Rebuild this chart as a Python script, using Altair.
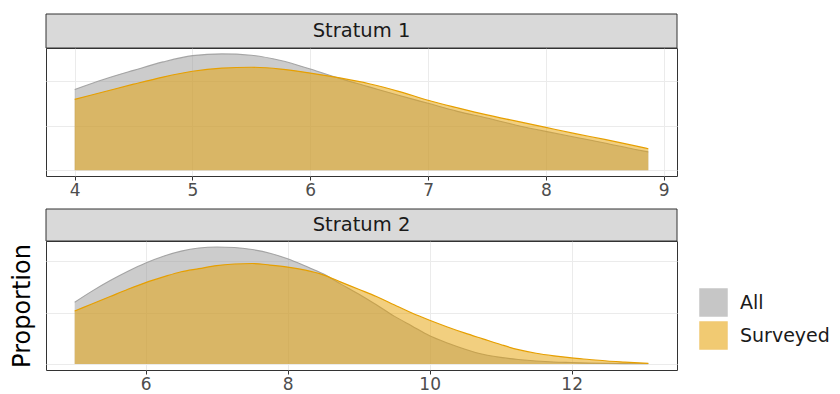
import altair as alt
import pandas as pd

# ---- data ----
groups = ["All", "Surveyed"]
strata = ["Stratum 1", "Stratum 2"]

x_s1 = [4.0, 4.25, 4.5, 4.75, 5.0, 5.25, 5.5, 5.75, 6.0, 6.25, 6.5, 6.75,
        7.0, 7.25, 7.5, 7.75, 8.0, 8.25, 8.5, 8.75, 8.87]
all_s1 = [0.181, 0.204, 0.224, 0.243, 0.257, 0.261, 0.258, 0.246, 0.227, 0.206, 0.187,
          0.168, 0.150, 0.132, 0.117, 0.101, 0.087, 0.074, 0.061, 0.047, 0.041]
surv_s1 = [0.159, 0.176, 0.193, 0.209, 0.222, 0.229, 0.231, 0.227, 0.218, 0.207, 0.194,
           0.177, 0.157, 0.140, 0.124, 0.110, 0.096, 0.082, 0.069, 0.055, 0.048]

x_s2 = [5.0, 5.25, 5.5, 5.75, 6.0, 6.25, 6.5, 6.75, 7.0, 7.25, 7.5, 7.75, 8.0, 8.25,
        8.5, 8.75, 9.0, 9.25, 9.5, 9.75, 10.0, 10.25, 10.5, 10.75, 11.0, 11.25, 11.5,
        11.75, 12.0, 12.25, 12.5, 12.75, 13.08]
all_s2 = [0.120, 0.142, 0.162, 0.180, 0.196, 0.209, 0.219, 0.225, 0.227, 0.226, 0.222,
          0.215, 0.204, 0.190, 0.175, 0.155, 0.136, 0.115, 0.093, 0.074, 0.055, 0.041,
          0.029, 0.019, 0.013, 0.009, 0.006, 0.004, 0.003, 0.002, 0.0014, 0.001, 0.0006]
surv_s2 = [0.103, 0.117, 0.131, 0.145, 0.158, 0.169, 0.179, 0.185, 0.191, 0.194, 0.195,
           0.192, 0.188, 0.182, 0.173, 0.159, 0.145, 0.131, 0.115, 0.099, 0.085, 0.072,
           0.060, 0.049, 0.038, 0.028, 0.021, 0.016, 0.012, 0.009, 0.006, 0.004, 0.0016]

x_ticks_s1 = [4, 5, 6, 7, 8, 9]
x_ticks_s2 = [6, 8, 10, 12]
y_grid_s1 = [0.0, 0.1, 0.2]
y_grid_s2 = [0.0, 0.05, 0.1, 0.15, 0.2]

colors = ["#999999", "#E69F00"]
FONT = "DejaVu Sans"
W = 631


def frame(xs, a, s):
    rows = []
    for xv, yv in zip(xs, a):
        rows.append({"x": xv, "y": yv, "group": "All"})
    for xv, yv in zip(xs, s):
        rows.append({"x": xv, "y": yv, "group": "Surveyed"})
    return pd.DataFrame(rows)


def panel(df, label, xdom, ydom, xticks, ygrid, height, strip_h, ytitle):
    fill_scale = alt.Scale(domain=groups, range=colors)
    xenc = alt.X("x:Q", scale=alt.Scale(domain=xdom, nice=False, zero=False),
                 axis=alt.Axis(values=xticks, title=None, domain=False, grid=True,
                               gridColor="#EBEBEB", tickColor="#333333", tickSize=4,
                               labelColor="#4D4D4D", labelFontSize=17, labelFont=FONT,
                               labelPadding=2, format="d"))
    yax = dict(values=ygrid, labels=False, ticks=False, domain=False, grid=True,
               gridColor="#EBEBEB")
    if ytitle:
        yax.update(title=ytitle, titleFontSize=24, titleFont=FONT, titleFontWeight="normal",
                   titleColor="#000000", titlePadding=12)
    else:
        yax.update(title=None)
    yenc = alt.Y("y:Q", scale=alt.Scale(domain=ydom, nice=False, zero=False),
                 axis=alt.Axis(**yax))
    leg = alt.Legend(title=None)
    base = alt.Chart(df)
    area_all = base.transform_filter(alt.datum.group == "All").mark_area(
        fillOpacity=0.5, interpolate="monotone").encode(
        x=xenc, y=yenc, fill=alt.Fill("group:N", scale=fill_scale, legend=leg))
    line_all = base.transform_filter(alt.datum.group == "All").mark_line(
        strokeWidth=1.1, strokeOpacity=0.85, interpolate="monotone").encode(
        x="x:Q", y="y:Q", stroke=alt.Stroke("group:N", scale=fill_scale, legend=leg))
    area_s = base.transform_filter(alt.datum.group == "Surveyed").mark_area(
        fillOpacity=0.5, interpolate="monotone").encode(
        x="x:Q", y="y:Q", fill=alt.Fill("group:N", scale=fill_scale, legend=leg))
    line_s = base.transform_filter(alt.datum.group == "Surveyed").mark_line(
        strokeWidth=1.2, interpolate="monotone").encode(
        x="x:Q", y="y:Q", stroke=alt.Stroke("group:N", scale=fill_scale, legend=leg))
    strip = alt.Chart(pd.DataFrame({"label": [label]})).mark_rect(
        fill="#D9D9D9", stroke="#333333", strokeWidth=1).encode(
        x=alt.value(0), x2=alt.value(W), y=alt.value(-strip_h), y2=alt.value(0))
    strip_text = alt.Chart(pd.DataFrame({"label": [label]})).mark_text(
        font=FONT, fontSize=19.5, color="#1A1A1A", baseline="middle", align="center").encode(
        x=alt.value(W / 2), y=alt.value(-strip_h / 2), text="label:N")
    return alt.layer(area_all, line_all, area_s, line_s, strip, strip_text).properties(
        width=W, height=height)


df1 = frame(x_s1, all_s1, surv_s1)
df2 = frame(x_s2, all_s2, surv_s2)

p1 = panel(df1, strata[0], [3.7565, 9.1135], [-0.0131, 0.2742], x_ticks_s1, y_grid_s1,
           128, 34, None)
p2 = panel(df2, strata[1], [4.596, 13.484], [-0.0114, 0.2386], x_ticks_s2, y_grid_s2,
           129, 32, "Proportion")

chart = alt.vconcat(p1, p2, spacing=9).properties(
    padding={"left": 1, "top": 5, "right": 0, "bottom": 0},
    background="white"
).configure_view(stroke="#333333", strokeWidth=1).configure_legend(
    orient="none", legendX=653, legendY=240, symbolType="square", symbolSize=729,
    symbolStrokeWidth=1.5, symbolOpacity=0.55, labelFontSize=19, labelFont=FONT,
    labelColor="#1A1A1A", rowPadding=0, labelOffset=12, padding=0
)

chart.save("out.html", embed_options={"renderer": "svg", "actions": False})
